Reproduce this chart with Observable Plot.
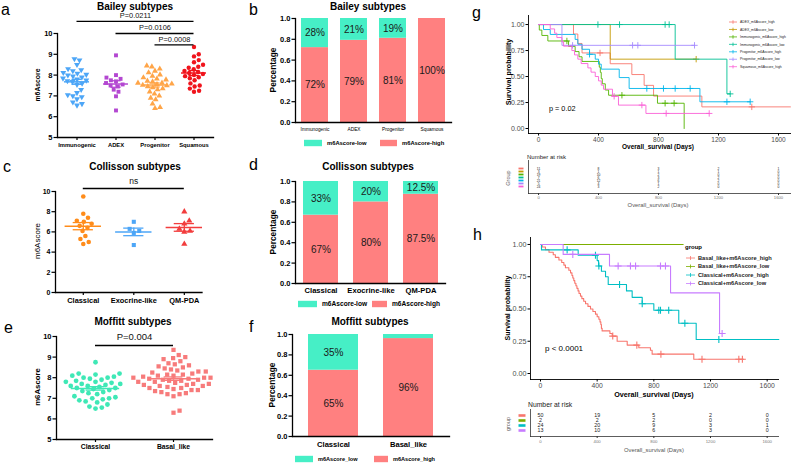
<!DOCTYPE html>
<html><head><meta charset="utf-8">
<script src="https://cdn.jsdelivr.net/npm/d3@7"></script>
<script src="https://cdn.jsdelivr.net/npm/@observablehq/plot@0.6"></script>
<style>
body{margin:0;background:#fff;}
#root{position:relative;width:791px;height:464px;overflow:hidden;background:#fff;}
#root svg{position:absolute;overflow:visible;}
</style></head><body><div id="root"></div>
<script>
// ================= DATA =================
// a: Bailey subtypes m6Ascore
const baileyCats = ["Immunogenic", "ADEX", "Progenitor", "Squamous"];
const baileyImmunogenic = [8.78, 8.72, 8.5, 8.3, 8.25, 8.2, 8.12, 8.08, 8.03, 8.0, 7.95, 7.9, 7.85, 7.8, 7.75, 7.72, 7.68, 7.6, 7.55, 7.3, 7.15, 7.05, 7.0, 6.95, 6.85, 6.7, 6.62, 6.55];
const baileyADEX = [8.95, 8.0, 7.88, 7.82, 7.75, 7.7, 7.62, 7.55, 7.5, 7.45, 7.3, 7.2, 6.98, 6.3];
const baileyProgenitor = [8.45, 8.4, 8.3, 8.2, 8.12, 8.02, 7.95, 7.88, 7.82, 7.78, 7.72, 7.68, 7.62, 7.58, 7.55, 7.52, 7.5, 7.45, 7.4, 7.35, 7.3, 7.2, 7.1, 7.0, 6.9, 6.82, 6.62, 6.45, 6.4, 7.62];
const baileySquamous = [9.35, 9.0, 8.9, 8.72, 8.62, 8.5, 8.35, 8.28, 8.2, 8.15, 8.1, 8.05, 8.0, 7.95, 7.9, 7.85, 7.75, 7.6, 7.5, 7.45, 7.35, 7.25, 7.2, 8.4];
const baileySigFrom = [0, 1, 2];
const baileySigTo = [3, 3, 3];
const baileySigY = [10.58, 10.0, 9.45];
const baileySigText = ["P=0.0211", "P=0.0106", "P=0.0008"];

// c: Collisson subtypes
const collCats = ["Classical", "Exocrine-like", "QM-PDA"];
const collClassical = [9.5, 7.8, 7.4, 7.1, 7.0, 6.8, 6.6, 6.4, 6.1, 5.6, 5.3, 5.0, 4.8];
const collExocrine = [7.0, 6.3, 6.1, 5.9, 4.7];
const collQM = [8.0, 7.1, 6.8, 6.3, 6.1, 6.0, 4.8];
const collSigFrom = [0], collSigTo = [2], collSigY = [10.3], collSigText = ["ns"];

// e: Moffitt subtypes
const moffCats = ["Classical", "Basal_like"];
const moffClassical = [8.75, 8.2, 8.2, 8.15, 8.1, 8.05, 8.0, 8.0, 7.95, 7.9, 7.85, 7.8, 7.8, 7.75, 7.7, 7.7, 7.65, 7.6, 7.6, 7.55, 7.5, 7.5, 7.45, 7.4, 7.35, 7.3, 7.25, 7.2, 7.1, 7.05, 7.0, 7.0, 6.95, 6.9, 6.85, 6.8, 6.7, 6.6, 6.55, 6.5];
const moffBasal = [9.35, 9.1, 9.0, 8.95, 8.9, 8.8, 8.65, 8.6, 8.5, 8.45, 8.4, 8.35, 8.3, 8.3, 8.25, 8.2, 8.15, 8.1, 8.1, 8.05, 8.0, 8.0, 7.95, 7.9, 7.9, 7.85, 7.85, 7.8, 7.8, 7.75, 7.7, 7.7, 7.65, 7.6, 7.6, 7.55, 7.5, 7.5, 7.45, 7.4, 7.4, 7.35, 7.3, 7.25, 7.2, 7.2, 7.1, 6.4, 6.3, 8.55, 8.7, 8.0, 7.95, 8.15, 7.65];
const moffSigFrom = [0], moffSigTo = [1], moffSigY = [9.56], moffSigText = ["P=0.004"];

// b, d, f: proportions
const baileyHigh = [0.72, 0.79, 0.81, 1.0];
const baileyHighLbl = ["72%", "79%", "81%", "100%"];
const baileyLowLbl = ["28%", "21%", "19%", ""];
const collHigh = [0.67, 0.80, 0.875];
const collHighLbl = ["67%", "80%", "87.5%"];
const collLowLbl = ["33%", "20%", "12.5%"];
const moffHigh = [0.65, 0.96];
const moffHighLbl = ["65%", "96%"];
const moffLowLbl = ["35%", ""];

// g: survival by Bailey subtype x m6Ascore
const gGroups = ["ADEX_m6Ascore_high", "ADEX_m6Ascore_low", "Immunogenic_m6Ascore_high", "Immunogenic_m6Ascore_low", "Progenitor_m6Ascore_high", "Progenitor_m6Ascore_low", "Squamous_m6Ascore_high"];
const gColors = ["#F8766D", "#C49A00", "#53B400", "#00C094", "#00B6EB", "#A58AFF", "#FB61D7"];
const gAdexHighT = [0, 233, 262, 290, 478, 622, 704, 767, 1089, 1680];
const gAdexHighS = [1, 0.909, 0.818, 0.727, 0.623, 0.519, 0.415, 0.312, 0.208, 0.208];
const gAdexHighC = [410, 1422];
const gAdexLowT = [0, 478, 1051];
const gAdexLowS = [1, 0.667, 0.667];
const gAdexLowC = [1051];
const gImmHighT = [0, 5, 22, 62, 200, 244, 270, 290, 405, 412, 418, 425, 445, 467, 793, 971];
const gImmHighS = [1, 0.947, 0.895, 0.842, 0.79, 0.74, 0.69, 0.645, 0.59, 0.54, 0.48, 0.43, 0.37, 0.32, 0.243, 0];
const gImmHighC = [189, 556, 844, 904];
const gImmLowT = [0, 911, 1256, 1278];
const gImmLowS = [1, 0.667, 0.333, 0.333];
const gImmLowC = [396, 540, 844, 871, 1278];
const gProgHighT = [0, 33, 78, 244, 262, 290, 340, 378, 400, 418, 538, 604, 1076, 1411];
const gProgHighS = [1, 0.952, 0.905, 0.857, 0.81, 0.762, 0.714, 0.667, 0.619, 0.571, 0.49, 0.385, 0.257, 0.257];
const gProgHighC = [340, 722, 833, 911, 1011, 1256, 1411];
const gProgLowT = [0, 156, 1040];
const gProgLowS = [1, 0.8, 0.8];
const gProgLowC = [227, 627, 662, 1040];
const gSqHighT = [0, 78, 107, 122, 156, 167, 222, 240, 262, 284, 329, 350, 378, 400, 418, 433, 493, 533, 716, 1138];
const gSqHighS = [1, 0.958, 0.917, 0.875, 0.833, 0.792, 0.75, 0.708, 0.667, 0.625, 0.583, 0.542, 0.5, 0.458, 0.417, 0.378, 0.31, 0.225, 0.145, 0.145];
const gSqHighC = [504, 689, 851, 1138];
const riskTimes = [0, 400, 800, 1200, 1600];
const gRiskAdexHigh = [11, 8, 3, 2, 1];
const gRiskAdexLow = [3, 1, 1, 1, 0];
const gRiskImmHigh = [19, 10, 2, 0, 0];
const gRiskImmLow = [7, 6, 3, 2, 0];
const gRiskProgHigh = [21, 12, 6, 2, 0];
const gRiskProgLow = [5, 4, 1, 0, 0];
const gRiskSqHigh = [24, 3, 2, 0, 0];

// h: survival by Moffitt subtype x m6Ascore
const hGroups = ["Basal_like+m6Ascore_high", "Basal_like+m6Ascore_low", "Classical+m6Ascore_high", "Classical+m6Ascore_low"];
const hColors = ["#F8766D", "#7CAE00", "#00BFC4", "#C77CFF"];
const hBasalHighT = [0, 12, 35, 60, 90, 105, 130, 150, 165, 176, 200, 212, 222, 228, 235, 242, 250, 257, 265, 272, 282, 292, 305, 318, 335, 353, 370, 388, 400, 412, 420, 426, 430, 435, 490, 506, 541, 612, 694, 776, 788, 1082, 1435];
const hBasalHighS = [1, 0.98, 0.96, 0.94, 0.92, 0.90, 0.88, 0.86, 0.84, 0.82, 0.80, 0.78, 0.76, 0.74, 0.72, 0.70, 0.68, 0.66, 0.64, 0.62, 0.60, 0.58, 0.56, 0.54, 0.52, 0.50, 0.48, 0.46, 0.44, 0.42, 0.40, 0.38, 0.35, 0.33, 0.31, 0.29, 0.25, 0.22, 0.20, 0.18, 0.15, 0.11, 0.11];
const hBasalHighC = [510, 680, 850, 1140, 1400, 1425];
const hBasalLowT = [0, 1007];
const hBasalLowS = [1, 1];
const hBasalLowC = [];
const hClassHighT = [0, 7, 266, 400, 410, 430, 459, 478, 607, 647, 718, 800, 976, 1099, 1682];
const hClassHighS = [1, 0.958, 0.917, 0.875, 0.833, 0.792, 0.75, 0.69, 0.64, 0.59, 0.54, 0.49, 0.39, 0.264, 0.264];
const hClassHighC = [188, 388, 412, 558, 718, 835, 847, 905, 1019, 1259];
const hClassLowT = [0, 160, 487, 918, 1264, 1282];
const hClassLowS = [1, 0.923, 0.833, 0.625, 0.31, 0.31];
const hClassLowC = [228, 548, 635, 671, 847, 882, 1282];
const hRiskBasalHigh = [50, 19, 5, 2, 0];
const hRiskBasalLow = [2, 2, 2, 0, 0];
const hRiskClassHigh = [24, 20, 9, 3, 1];
const hRiskClassLow = [13, 10, 6, 3, 0];

// ================= HELPERS =================
const FONT = '"Liberation Sans", Arial, Helvetica, sans-serif';
const TEAL = "#46EFC6", RED = "#FF8080";
const root = document.getElementById("root");
function put(node, left, top) { node.style.left = left + "px"; node.style.top = top + "px"; root.appendChild(node); return node; }
const baseStyle = {fontFamily: FONT, background: "transparent", overflow: "visible", color: "#000"};
const plainNum = d => String(d);

// simple beeswarm offsets (in x data units)
function swarm(vals, rc, pxX, pxY) {
  const order = vals.map((v, i) => i).sort((a, b) => vals[a] - vals[b]);
  const placed = [], off = new Array(vals.length), d = 2 * rc;
  for (const i of order) {
    const y = vals[i] * pxY, cands = [0];
    for (const p of placed) {
      const dy = Math.abs(p.y - y);
      if (dy < d) { const dx = Math.sqrt(d * d - dy * dy); cands.push(p.x + dx, p.x - dx); }
    }
    cands.sort((a, b) => Math.abs(a) - Math.abs(b) || b - a);
    let x = 0;
    for (const c of cands) { if (placed.every(p => (p.x - c) ** 2 + (p.y - y) ** 2 >= d * d - 1e-6)) { x = c; break; } }
    placed.push({x, y}); off[i] = x / pxX;
  }
  return off;
}
const triDown = {draw(ctx, size) { const y = -Math.sqrt(size / (Math.sqrt(3) * 3)); ctx.moveTo(0, -y * 2); ctx.lineTo(-Math.sqrt(3) * y, y); ctx.lineTo(Math.sqrt(3) * y, y); ctx.closePath(); }};
function barSymbol(w, h) { return {draw(ctx) { ctx.rect(-w / 2, -h / 2, w, h); }}; }

function strip(o) {
  const pxX = (o.width - o.mL - o.mR) / (o.xDomain[1] - o.xDomain[0]);
  const pxY = (o.height - o.mT - o.mB) / (o.yDomain[1] - o.yDomain[0]);
  const marks = [];
  o.groups.forEach((g, i) => {
    const off = swarm(g.values, o.collide, pxX, pxY);
    const rows = g.values.map((v, j) => ({x: i + off[j], y: v}));
    marks.push(Plot.dot(rows, {x: "x", y: "y", r: o.r, fill: g.color, symbol: g.symbol, stroke: "none"}));
    const m = d3.mean(g.values), se = d3.deviation(g.values) / Math.sqrt(g.values.length);
    marks.push(Plot.ruleY([m], {y: d => d, x1: () => i - o.meanHalf, x2: () => i + o.meanHalf, stroke: g.color, strokeWidth: 1.5}));
    marks.push(Plot.ruleX([i], {x: d => d, y1: () => m - se, y2: () => m + se, stroke: g.color, strokeWidth: 1.3}));
    marks.push(Plot.ruleY([m - se, m + se], {y: d => d, x1: () => i - o.capHalf, x2: () => i + o.capHalf, stroke: g.color, strokeWidth: 1.3}));
  });
  const sig = o.sig.y.map((y, k) => ({y, from: o.sig.from[k], to: o.sig.to[k], text: o.sig.text[k]}));
  marks.push(Plot.ruleY(sig, {y: "y", x1: "from", x2: "to", stroke: "#000", strokeWidth: o.sigWidth}));
  marks.push(Plot.text(sig, {x: d => (d.from + d.to) / 2, y: "y", text: "text", dy: o.sigDy, fontSize: o.sigFont, fill: "#111"}));
  marks.push(Plot.frame({anchor: "left", stroke: "#000", strokeWidth: 1.3}));
  marks.push(Plot.frame({anchor: "bottom", stroke: "#000", strokeWidth: 1.3}));
  marks.push(Plot.axisY({ticks: o.yTicks, tickFormat: plainNum, tickSize: 3.5, tickPadding: 1.5, fontSize: o.yFont, fontWeight: "bold", label: null, strokeWidth: 1.2}));
  marks.push(Plot.axisX({ticks: o.groups.map((g, i) => i), tickFormat: i => o.groups[i].name, tickSize: 3, tickPadding: 2, fontSize: o.xFont, fontWeight: "bold", label: null, strokeWidth: 1.2}));
  const p = Plot.plot({width: o.width, height: o.height, marginLeft: o.mL, marginRight: o.mR, marginTop: o.mT, marginBottom: o.mB,
    x: {domain: o.xDomain}, y: {domain: o.yDomain}, style: baseStyle, marks});
  put(p, o.left, o.top);
}

function bars(o) {
  const rows = [];
  o.cats.forEach((c, i) => {
    rows.push({cat: c, grp: "high", v: o.high[i], lbl: o.highLbl[i]});
    rows.push({cat: c, grp: "low", v: 1 - o.high[i], lbl: o.lowLbl[i]});
  });
  const p = Plot.plot({width: o.width, height: o.height, marginLeft: o.mL, marginRight: o.mR, marginTop: o.mT, marginBottom: o.mB,
    x: {domain: o.cats, paddingInner: o.pI, paddingOuter: o.pO}, y: {domain: [0, 1]},
    color: {domain: ["high", "low"], range: [RED, TEAL]}, style: baseStyle,
    marks: [
      Plot.barY(rows, Plot.stackY({x: "cat", y: "v", fill: "grp"})),
      Plot.text(rows, Plot.stackY({x: "cat", y: "v", text: "lbl", fontSize: o.pctFont, fill: "#1a1a1a"})),
      Plot.frame({anchor: "left", stroke: "#000", strokeWidth: 1.3}),
      Plot.frame({anchor: "bottom", stroke: "#000", strokeWidth: 1.3}),
      Plot.axisY({ticks: [0, 0.2, 0.4, 0.6, 0.8, 1.0], tickFormat: d3.format(".1f"), tickSize: 3.5, tickPadding: 1.5, fontSize: o.yFont, fontWeight: "bold", label: null, strokeWidth: 1.2}),
      Plot.axisX({tickSize: 0, tickPadding: o.xPad, fontSize: o.xFont, fontWeight: o.xWeight, label: null})
    ]});
  put(p, o.left, o.top);
}

function stepAt(ts, ss, t) { let v = ss[0]; for (let i = 0; i < ts.length; i++) if (ts[i] <= t) v = ss[i]; return v; }

function surv(o) {
  const marks = [];
  o.curves.forEach(c => {
    const pts = c.t.map((t, i) => ({t, s: c.s[i]}));
    marks.push(Plot.line(pts, {x: "t", y: "s", stroke: c.color, strokeWidth: o.lw, curve: "step-after"}));
    const cens = c.c.map(t => ({t, s: stepAt(c.t, c.s, t)}));
    marks.push(Plot.dot(cens, {x: "t", y: "s", symbol: "plus", stroke: c.color, r: o.cr, strokeWidth: o.lw}));
  });
  marks.push(Plot.frame({anchor: "left", stroke: "#000", strokeWidth: 0.9}));
  marks.push(Plot.frame({anchor: "bottom", stroke: "#000", strokeWidth: 0.9}));
  marks.push(Plot.axisY({ticks: [0, 0.25, 0.5, 0.75, 1], tickFormat: d3.format(".2f"), tickSize: 2.5, tickPadding: 1.5, fontSize: o.yFont, fill: "#4d4d4d", stroke: "#000", label: null}));
  marks.push(Plot.axisX({ticks: riskTimes, tickFormat: plainNum, tickSize: 2.5, tickPadding: 1, fontSize: o.xFont, fill: "#4d4d4d", stroke: "#000", label: null}));
  const p = Plot.plot({width: o.width, height: o.height, marginLeft: o.mL, marginRight: o.mR, marginTop: o.mT, marginBottom: o.mB,
    x: {domain: o.xDomain}, y: {domain: o.yDomain}, style: baseStyle, marks});
  put(p, o.left, o.top);
}

function risk(o) {
  const rows = [];
  o.groups.forEach((g, i) => riskTimes.forEach((t, k) => rows.push({g, t, n: o.values[i][k]})));
  const marks = [Plot.text(rows, {x: "t", y: "g", text: d => String(d.n), fontSize: o.numFont, fill: "#222"})];
  o.groups.forEach((g, i) => marks.push(Plot.dot([g], {y: d => d, frameAnchor: "left", dx: o.swDx, symbol: barSymbol(o.swW, o.swH), r: 2, fill: o.colors[i], stroke: "none"})));
  marks.push(Plot.frame({anchor: "left", stroke: "#333", strokeWidth: 0.8}));
  marks.push(Plot.frame({anchor: "bottom", stroke: "#333", strokeWidth: 0.8}));
  marks.push(Plot.axisX({ticks: riskTimes, tickFormat: plainNum, tickSize: 2, tickPadding: 1, fontSize: o.tickFont, fill: "#777", stroke: "#333", label: null}));
  const p = Plot.plot({width: o.width, height: o.height, marginLeft: o.mL, marginRight: o.mR, marginTop: o.mT, marginBottom: o.mB,
    x: {domain: o.xDomain}, y: {type: "point", domain: o.groups, padding: o.pad, axis: null}, style: baseStyle, marks});
  put(p, o.left, o.top);
}

// ================= PANELS =================
strip({left: 0, top: 0, width: 260, height: 160, mL: 57, mR: 47, mT: 33, mB: 23,
  xDomain: [-0.5, 3.5], yDomain: [5, 10], yTicks: [5, 6, 7, 8, 9, 10], r: 2.2, collide: 2.6, meanHalf: 0.32, capHalf: 0.13,
  groups: [
    {name: baileyCats[0], values: baileyImmunogenic, color: "#4DA6F7", symbol: triDown},
    {name: baileyCats[1], values: baileyADEX, color: "#B347D1", symbol: "square"},
    {name: baileyCats[2], values: baileyProgenitor, color: "#FFA548", symbol: "triangle"},
    {name: baileyCats[3], values: baileySquamous, color: "#F0141C", symbol: "circle"}],
  sig: {from: baileySigFrom, to: baileySigTo, y: baileySigY, text: baileySigText}, sigWidth: 1.3, sigDy: -5.5, sigFont: 7.4,
  yFont: 7.5, xFont: 5.8});

strip({left: 0, top: 160, width: 260, height: 150, mL: 55, mR: 58.5, mT: 31, mB: 18,
  xDomain: [-0.55, 2.35], yDomain: [0, 10], yTicks: [0, 2, 4, 6, 8, 10], r: 2.3, collide: 2.9, meanHalf: 0.36, capHalf: 0.2,
  groups: [
    {name: collCats[0], values: collClassical, color: "#FF8C1A", symbol: "circle"},
    {name: collCats[1], values: collExocrine, color: "#4DA6F7", symbol: "square"},
    {name: collCats[2], values: collQM, color: "#F23D3D", symbol: "triangle"}],
  sig: {from: collSigFrom, to: collSigTo, y: collSigY, text: collSigText}, sigWidth: 1.4, sigDy: -7, sigFont: 8.5,
  yFont: 7, xFont: 7.4});

strip({left: 0, top: 320, width: 260, height: 144, mL: 56, mR: 48, mT: 16, mB: 25,
  xDomain: [-0.5, 1.5], yDomain: [5, 10], yTicks: [5, 6, 7, 8, 9, 10], r: 2.4, collide: 3.2, meanHalf: 0.31, capHalf: 0.12,
  groups: [
    {name: moffCats[0], values: moffClassical, color: "#3FE8B6", symbol: "circle"},
    {name: moffCats[1], values: moffBasal, color: "#F77B7B", symbol: "square"}],
  sig: {from: moffSigFrom, to: moffSigTo, y: moffSigY, text: moffSigText}, sigWidth: 1.6, sigDy: -9, sigFont: 9.5,
  yFont: 7.5, xFont: 6.8});

bars({left: 255, top: 0, width: 240, height: 137, mL: 40, mR: 44, mT: 18, mB: 15, cats: baileyCats, high: baileyHigh,
  highLbl: baileyHighLbl, lowLbl: baileyLowLbl, pI: 0.31, pO: 0.155, pctFont: 10, yFont: 7.5, xFont: 4.8, xWeight: "normal", xPad: 5});
bars({left: 255, top: 160, width: 240, height: 135, mL: 40, mR: 50, mT: 21, mB: 12, cats: collCats, high: collHigh,
  highLbl: collHighLbl, lowLbl: collLowLbl, pI: 0.307, pO: 0.14, pctFont: 10, yFont: 7.5, xFont: 7.6, xWeight: "bold", xPad: 4});
bars({left: 255, top: 320, width: 240, height: 130, mL: 37, mR: 46, mT: 14, mB: 14, cats: moffCats, high: moffHigh,
  highLbl: moffHighLbl, lowLbl: moffLowLbl, pI: 0.33, pO: 0.2, pctFont: 10, yFont: 7.5, xFont: 7.6, xWeight: "bold", xPad: 5});

surv({left: 495, top: 0, width: 296, height: 145, mL: 33, mR: 1, mT: 15, mB: 12, xDomain: [-67, 1680], yDomain: [-0.048, 1.087],
  lw: 0.9, cr: 2.2, yFont: 7, xFont: 6.5,
  curves: [
    {t: gAdexHighT, s: gAdexHighS, c: gAdexHighC, color: gColors[0]},
    {t: gAdexLowT, s: gAdexLowS, c: gAdexLowC, color: gColors[1]},
    {t: gImmHighT, s: gImmHighS, c: gImmHighC, color: gColors[2]},
    {t: gImmLowT, s: gImmLowS, c: gImmLowC, color: gColors[3]},
    {t: gProgHighT, s: gProgHighS, c: gProgHighC, color: gColors[4]},
    {t: gProgLowT, s: gProgLowS, c: gProgLowC, color: gColors[5]},
    {t: gSqHighT, s: gSqHighS, c: gSqHighC, color: gColors[6]}]});

risk({left: 495, top: 150, width: 296, height: 62, mL: 33, mR: 1, mT: 10, mB: 19, xDomain: [-67, 1680], pad: 1.95,
  groups: gGroups, colors: gColors, numFont: 3.3, swW: 5, swH: 1.8, swDx: -7.5, tickFont: 4.2,
  values: [gRiskAdexHigh, gRiskAdexLow, gRiskImmHigh, gRiskImmLow, gRiskProgHigh, gRiskProgLow, gRiskSqHigh]});

surv({left: 495, top: 225, width: 296, height: 165, mL: 35, mR: 13, mT: 12, mB: 11, xDomain: [-70.6, 1680], yDomain: [-0.0465, 1.054],
  lw: 1.1, cr: 2.4, yFont: 7.2, xFont: 6.8,
  curves: [
    {t: hBasalHighT, s: hBasalHighS, c: hBasalHighC, color: hColors[0]},
    {t: hBasalLowT, s: hBasalLowS, c: hBasalLowC, color: hColors[1]},
    {t: hClassHighT, s: hClassHighS, c: hClassHighC, color: hColors[2]},
    {t: hClassLowT, s: hClassLowS, c: hClassLowC, color: hColors[3]}]});

risk({left: 495, top: 398, width: 296, height: 66, mL: 35, mR: 13, mT: 11, mB: 28, xDomain: [-70.6, 1680], pad: 1.0,
  groups: hGroups, colors: hColors, numFont: 5.3, swW: 7, swH: 2.6, swDx: -8.5, tickFont: 4.3,
  values: [hRiskBasalHigh, hRiskBasalLow, hRiskClassHigh, hRiskClassLow]});

// ================= ANNOTATION OVERLAY =================
const ov = d3.create("svg").attr("width", 791).attr("height", 464).style("left", "0px").style("top", "0px").style("font-family", FONT);
function txt(s, x, y, {size = 8, weight = "normal", fill = "#000", anchor = "middle", rotate = 0} = {}) {
  ov.append("text").attr("x", x).attr("y", y).attr("dy", "0.35em").attr("text-anchor", anchor)
    .attr("font-size", size).attr("font-weight", weight).attr("fill", fill)
    .attr("transform", rotate ? `rotate(${rotate},${x},${y})` : null).text(s);
}
// panel letters
[["a", 1, 9], ["b", 249, 9], ["c", 3, 166], ["d", 249, 164], ["e", 4, 327], ["f", 249, 326], ["g", 472, 12], ["h", 473, 234]]
  .forEach(([s, x, y]) => txt(s, x, y, {size: 16, anchor: "start"}));
// titles
txt("Bailey subtypes", 135, 6, {size: 10, weight: "bold"});
txt("Bailey subtypes", 368, 6, {size: 10, weight: "bold"});
txt("Collisson subtypes", 135, 166, {size: 10, weight: "bold"});
txt("Collisson subtypes", 368, 166, {size: 10, weight: "bold"});
txt("Moffitt subtypes", 133, 321, {size: 10, weight: "bold"});
txt("Moffitt subtypes", 370, 321, {size: 10, weight: "bold"});
// axis titles
txt("m6Ascore", 38, 85, {size: 6.8, weight: "bold", rotate: -90});
txt("m6Ascore", 37, 241, {size: 8, rotate: -90});
txt("m6Ascore", 37, 387, {size: 7.8, weight: "bold", rotate: -90});
txt("Percentage", 273, 70, {size: 8.3, weight: "bold", rotate: -90});
txt("Percentage", 273, 232, {size: 8.3, weight: "bold", rotate: -90});
txt("Percentage", 272, 385, {size: 8.3, weight: "bold", rotate: -90});
// bar legends
function swatchLegend(y, items) {
  items.forEach(([x0, w, color, label, size]) => {
    ov.append("rect").attr("x", x0).attr("y", y - 3.2).attr("width", w).attr("height", 6.4).attr("fill", color);
    txt(label, x0 + w + 5, y, {size, weight: "bold", anchor: "start"});
  });
}
swatchLegend(143, [[304, 18, TEAL, "m6Ascore-low", 5.8], [380, 17, RED, "m6Ascore-high", 5.8]]);
swatchLegend(304, [[298, 19, TEAL, "m6Ascore-low", 6.6], [372, 15, RED, "m6Ascore-high", 6.6]]);
swatchLegend(459, [[295, 18, TEAL, "m6Ascore_low", 5.6], [374, 14, RED, "m6Ascore_high", 5.6]]);
// survival annotations
txt("Survival probability", 508, 72, {size: 7.2, weight: "bold", rotate: -90});
txt("Overall_survival (Days)", 658, 147, {size: 6.5, weight: "bold"});
txt("p = 0.02", 549, 108, {size: 7.3, anchor: "start"});
txt("Number at risk", 527, 157, {size: 6, anchor: "start", fill: "#222"});
txt("Group", 508, 178, {size: 5.5, fill: "#666", rotate: -90});
txt("Overall_survival (Days)", 658, 205, {size: 5.9, fill: "#555"});
txt("Survival probability", 508, 308, {size: 7, weight: "bold", rotate: -90});
txt("Overall_survival (Days)", 654, 394, {size: 7.2, weight: "bold"});
txt("p < 0.0001", 545, 348, {size: 8, anchor: "start"});
txt("Number at risk", 528, 405, {size: 6.8, anchor: "start", fill: "#222"});
txt("group", 508, 424, {size: 5.5, fill: "#666", rotate: -90});
txt("Overall_survival (Days)", 654, 450, {size: 5.8, fill: "#555"});
// survival legends
function survLegend(x0, y0, dy, len, names, colors, size, weight) {
  names.forEach((n, i) => {
    const y = y0 + i * dy, xm = x0 + len / 2, pl = len * 0.22;
    ov.append("line").attr("x1", x0).attr("x2", x0 + len).attr("y1", y).attr("y2", y).attr("stroke", colors[i]).attr("stroke-width", 0.8);
    ov.append("line").attr("x1", xm).attr("x2", xm).attr("y1", y - pl).attr("y2", y + pl).attr("stroke", colors[i]).attr("stroke-width", 0.8);
    txt(n, x0 + len + 3, y, {size, weight, anchor: "start", fill: "#222"});
  });
}
survLegend(729, 22, 7.45, 8, gGroups, gColors, 3.4, "normal");
txt("group", 685, 247, {size: 6, weight: "bold", anchor: "start"});
survLegend(686, 258, 8.5, 9, hGroups, hColors, 5.7, "bold");
root.appendChild(ov.node());
</script></body></html>
